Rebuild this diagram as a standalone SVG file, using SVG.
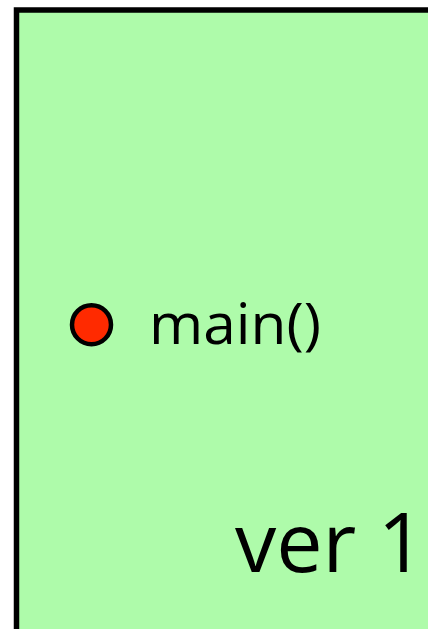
<svg xmlns="http://www.w3.org/2000/svg" width="428" height="629" viewBox="0 0 428 629">
<style>
.lbl{font-family:"Open Sans","Noto Sans",sans-serif;fill:#000}
</style>
<rect x="0" y="0" width="428" height="629" fill="#ffffff"/>
<g id="box">
<rect x="16.5" y="10" width="440" height="660" fill="#aefbaa" stroke="#000" stroke-width="5.5"/>
<text class="lbl" x="235" y="572" font-size="83" textLength="190" lengthAdjust="spacingAndGlyphs">ver 1</text>
</g>
<g id="main">
<circle cx="91.5" cy="324.7" r="19.5" fill="#ff2a00" stroke="#000" stroke-width="4.5"/>
<text class="lbl" x="149" y="344" font-size="57" textLength="172" lengthAdjust="spacingAndGlyphs">main()</text>
</g>
<g id="connectors"/>
</svg>
